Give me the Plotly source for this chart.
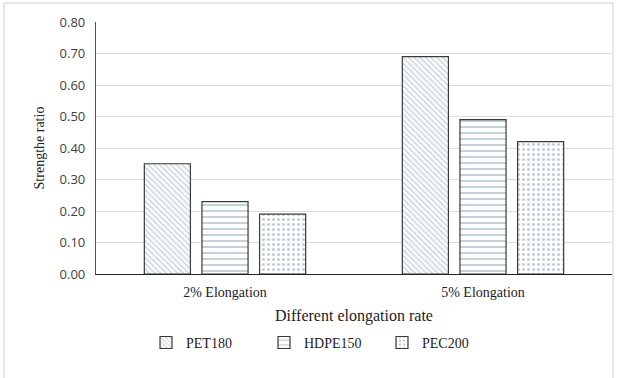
import plotly.graph_objects as go

categories = ["2% Elongation", "5% Elongation"]
series_names = ["PET180", "HDPE150", "PEC200"]
pet180 = [0.35, 0.69]
hdpe150 = [0.23, 0.49]
pec200 = [0.19, 0.42]
y_ticks = [0.0, 0.1, 0.2, 0.3, 0.4, 0.5, 0.6, 0.7, 0.8]

values = [pet180, hdpe150, pec200]
shapes = ["\\", "-", "."]
sizes = [4, 6, 5]

fig = go.Figure()
for name, vals, sh, sz in zip(series_names, values, shapes, sizes):
    fig.add_trace(go.Bar(
        x=categories, y=vals, name=name,
        marker=dict(
            color="white",
            line=dict(color="#3a3a3a", width=1.2),
            pattern=dict(shape=sh, fgcolor="#7d9bb0", bgcolor="white",
                         size=sz, solidity=0.3, fillmode="overlay"),
        ),
    ))

serif = "Liberation Serif"
fig.update_layout(
    width=623, height=378,
    margin=dict(l=96, r=11, t=22, b=104),
    paper_bgcolor="white", plot_bgcolor="white",
    barmode="group", bargap=0.33, bargroupgap=0.2,
    showlegend=True,
    legend=dict(orientation="h", x=(146 - 96) / 516, xanchor="left",
                y=-0.21, yanchor="top",
                font=dict(family=serif, size=14, color="#222"),
                entrywidth=73, itemwidth=30),
    xaxis=dict(showline=True, linecolor="#222", linewidth=1.2, ticks="",
               automargin=False, ticklabelstandoff=5,
               tickfont=dict(family=serif, size=14, color="#222"),
               title=dict(text="Different elongation rate", standoff=10,
                          font=dict(family=serif, size=16, color="#222"))),
    yaxis=dict(range=[0, 0.8], tickvals=y_ticks, tickformat=".2f",
               automargin=False,
               showline=True, linecolor="#555", linewidth=1.2,
               showgrid=True, gridcolor="#dcdcdc", gridwidth=1, zeroline=False,
               tickfont=dict(family="Open Sans", size=13, color="#404040"),
               ticklabelstandoff=7,
               title=dict(text="Strengthe ratio", standoff=11,
                          font=dict(family=serif, size=14, color="#222"))),
    shapes=[dict(type="rect", xref="paper", yref="paper",
                 x0=(4 - 96) / 516, x1=(613 - 96) / 516,
                 y0=(274 - 390) / 252, y1=(274 - 3) / 252,
                 line=dict(color="#d0d0d0", width=1), layer="below")],
)

fig.write_html("out.html", config={"displayModeBar": False},
               post_script="document.body.style.margin='0';document.body.style.overflow='hidden';")
